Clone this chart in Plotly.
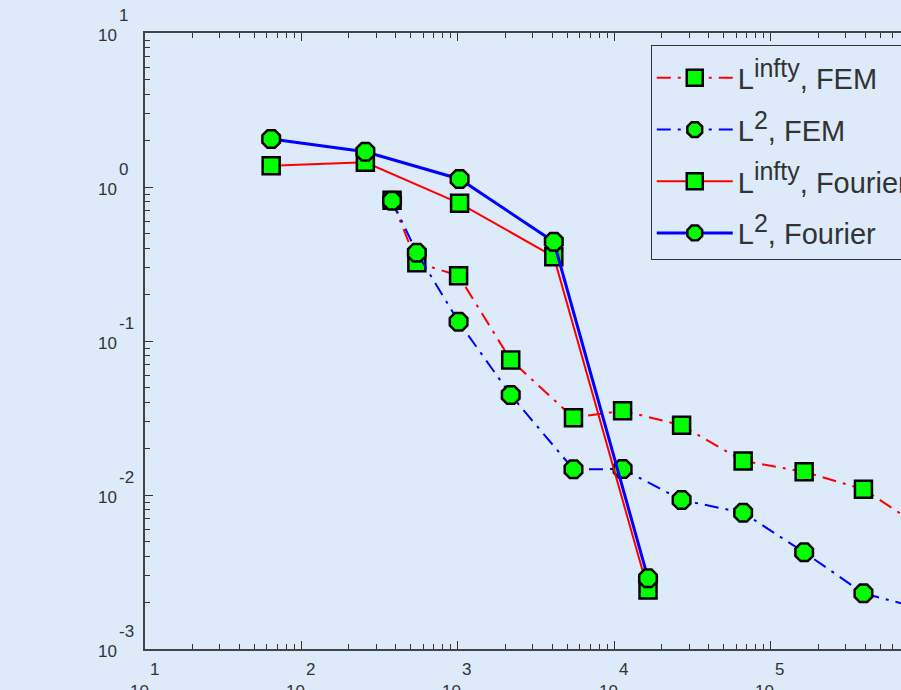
import plotly.graph_objects as go

# ---- data ----
x_fourier = [64, 256, 1024, 4096, 16384]
linf_fourier = [1.375, 1.447, 0.784, 0.3527, 0.002416]
l2_fourier = [2.05, 1.695, 1.127, 0.4414, 0.002877]

x_fem = [379, 546, 1009, 2173, 5470, 11270, 26850, 66400, 163000, 390000, 964000]
linf_fem = [0.8196, 0.3224, 0.2655, 0.07525, 0.03177, 0.03527, 0.02835,
            0.01663, 0.01416, 0.01089, 0.00596]
l2_fem = [0.815, 0.3745, 0.1334, 0.04461, 0.01468, 0.01475, 0.00928,
          0.00767, 0.004245, 0.0023, 0.0018]

SUP = "<sup><span style='font-size:25px'>{}</span></sup>"
series_names = ["L" + SUP.format("infty") + ", FEM",
                "L" + SUP.format("2") + ", FEM",
                "L" + SUP.format("infty") + ", Fourier",
                "L" + SUP.format("2") + ", Fourier"]

x_tick_exponents = [1, 2, 3, 4, 5]
y_tick_exponents = [-3, -2, -1, 0, 1]

# ---- style ----
BG = "#dceafa"
TXT = "#333333"
FONT = "Liberation Sans, Arial, sans-serif"
GREEN = "#00ff00"
DASHDOT = "14px,7px,3px,7px"

fig = go.Figure()

def add(xs, ys, name, color, width, dash, symbol, size, group):
    fig.add_trace(go.Scatter(
        x=xs, y=ys, name=name, mode="lines+markers", legendgroup=group,
        line=dict(color=color, width=width, dash=dash),
        marker=dict(symbol=symbol, size=size, color=GREEN,
                    line=dict(color="black", width=2.5)),
    ))

add(x_fem, linf_fem, series_names[0], "#ff0000", 2, DASHDOT, "square", 17, "a")
add(x_fem, l2_fem, series_names[1], "#0000ff", 2, DASHDOT, "octagon", 19, "b")
add(x_fourier, linf_fourier, series_names[2], "#ff0000", 2, "solid", "square", 17, "c")
add(x_fourier, l2_fourier, series_names[3], "#0000ff", 3, "solid", "octagon", 19, "d")

annotations = []
for e in x_tick_exponents:
    annotations.append(dict(x=e, xref="x", y=0, yref="paper", text=str(e),
                            showarrow=False, xanchor="center", yanchor="middle",
                            xshift=9, yshift=-20,
                            font=dict(size=17, color=TXT, family=FONT)))
    annotations.append(dict(x=e, xref="x", y=0, yref="paper", text="10",
                            showarrow=False, xanchor="center", yanchor="middle",
                            xshift=-6, yshift=-42,
                            font=dict(size=17, color=TXT, family=FONT)))
for e in y_tick_exponents:
    annotations.append(dict(x=0, xref="paper", y=e, yref="y", text="10",
                            showarrow=False, xanchor="right", yanchor="middle",
                            xshift=-26, yshift=-2,
                            font=dict(size=17, color=TXT, family=FONT)))
    annotations.append(dict(x=0, xref="paper", y=e, yref="y", text=str(e),
                            showarrow=False, xanchor="left", yanchor="middle",
                            xshift=-28, yshift=18,
                            font=dict(size=17, color=TXT, family=FONT)))

axis_common = dict(
    type="log", showgrid=False, zeroline=False, showticklabels=False,
    showline=True, linecolor="#444444", linewidth=1.5,
    ticks="inside", ticklen=8, tickwidth=1.2, tickcolor="#333333", dtick=1,
    minor=dict(ticks="inside", ticklen=5, tickwidth=1, tickcolor="#333333",
               dtick="D1", showgrid=False),
)

fig.update_layout(
    width=901, height=690,
    paper_bgcolor=BG, plot_bgcolor=BG,
    margin=dict(l=145, r=0, t=33, b=41, autoexpand=False),
    xaxis=dict(range=[1, 5.831], mirror="ticks", **axis_common),
    yaxis=dict(range=[-3, 1], mirror=False, **axis_common),
    showlegend=True,
    legend=dict(x=0.669, y=0.9805, xanchor="left", yanchor="top",
                bgcolor=BG, bordercolor="#333333", borderwidth=1,
                font=dict(size=29, color=TXT, family=FONT),
                title=dict(text="&nbsp;", font=dict(size=5)),
                traceorder="grouped", tracegroupgap=11, itemwidth=76),
    annotations=annotations,
    font=dict(family=FONT, color=TXT),
)

fig.write_html("out.html",
               config={"displayModeBar": False},
               post_script="document.body.style.margin='0';"
                           "document.body.style.overflow='hidden';")
